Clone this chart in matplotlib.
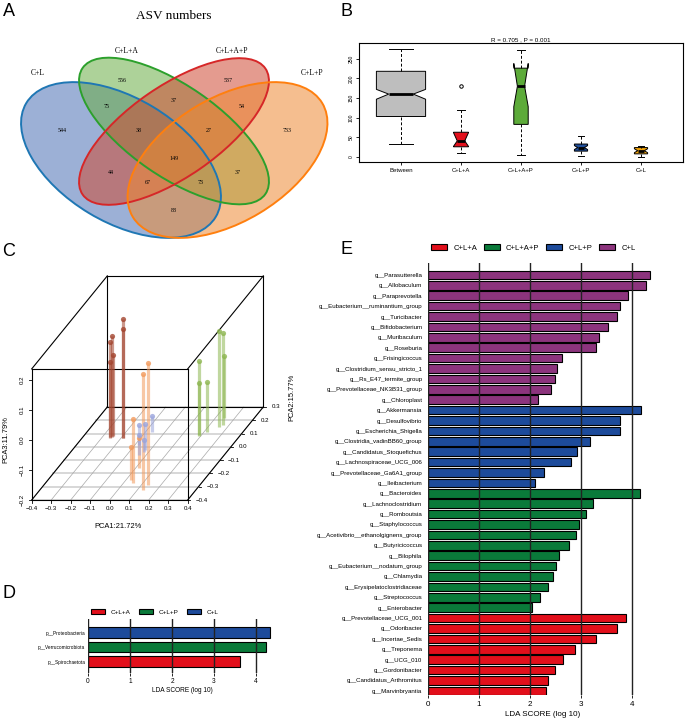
import numpy as np
import matplotlib.pyplot as plt
from matplotlib.patches import Ellipse, Patch

W, H = 685, 725
fig = plt.figure(figsize=(6.85, 7.25), dpi=100)
SANS = 'Liberation Sans'
SERIF = 'Liberation Serif'


def px_axes(x0, y0, x1, y1):
    return fig.add_axes([x0 / W, 1 - y1 / H, (x1 - x0) / W, (y1 - y0) / H])


# ---------------- data ----------------
# A: venn
venn_sets = ['C+L', 'C+L+A', 'C+L+A+P', 'C+L+P']
venn_counts = [544, 556, 537, 733, 75, 37, 54, 38, 27, 149, 44, 37, 67, 73, 88]

# B: anosim boxes
b_groups = ['Between', 'C+L+A', 'C+L+A+P', 'C+L+P', 'C+L']
b_whislo = [32, 9, 4, 2, 1]
b_q1 = [103, 26, 83, 15, 8]
b_med = [160, 41, 180, 24, 16]
b_q3 = [218, 63, 226, 33, 24]
b_whishi = [275, 119, 271, 53, 29]
b_cilo = [147, 27, 128, 19, 11]
b_cihi = [172, 62, 238, 29, 21]
b_fliers = [[], [180], [], [], []]

# C: PCA scores (PCA1, PCA2, PCA3)
pc1_brown = [-0.252, -0.257, -0.25, -0.26, -0.192, -0.19]
pc2_brown = [0.074, 0.07, 0.078, 0.072, 0.067, 0.065]
pc3_brown = [0.137, 0.12, 0.073, 0.05, 0.196, 0.163]
pc1_orange = [0.135, 0.128, 0.047, 0.028, 0.019]
pc2_orange = [-0.287, -0.325, -0.272, -0.25, -0.161]
pc3_orange = [0.206, 0.186, 0.013, -0.089, -0.10]
pc1_blue = [-0.069, -0.027, -0.08, -0.039, -0.025]
pc2_blue = [0.114, -0.024, 0.014, -0.061, -0.037]
pc3_blue = [-0.147, -0.114, -0.133, -0.133, -0.161]
pc1_green = [0.256, 0.27, 0.246, 0.189, 0.192, 0.213]
pc2_green = [0.152, 0.164, 0.217, 0.089, 0.08, 0.114]
pc3_green = [0.12, 0.106, 0.007, 0.048, -0.022, -0.033]

# D: phylum LDA
d_taxa = ['p__Proteobacteria', 'p__Verrucomicrobiota', 'p__Spirochaetota']
d_lda = [4.34, 4.24, 3.63]
d_group = ['C+L', 'C+L+P', 'C+L+A']
d_col = {'C+L+A': '#E20F1B', 'C+L+P': '#0A7A3A', 'C+L': '#1D4B9B'}

# E: genus LDA
e_taxa = ['g__Parasutterella', 'g__Allobaculum', 'g__Paraprevotella',
          'g__Eubacterium__ruminantium_group', 'g__Turicibacter', 'g__Bifidobacterium',
          'g__Muribaculum', 'g__Roseburia', 'g__Frisingicoccus',
          'g__Clostridium_sensu_stricto_1', 'g__Rs_E47_termite_group',
          'g__Prevotellaceae_NK3B31_group', 'g__Chloroplast',
          'g__Akkermansia', 'g__Desulfovibrio', 'g__Escherichia_Shigella',
          'g__Clostridia_vadinBB60_group', 'g__Candidatus_Stoquefichus',
          'g__Lachnospiraceae_UCG_006', 'g__Prevotellaceae_Ga6A1_group', 'g__Ileibacterium',
          'g__Bacteroides', 'g__Lachnoclostridium', 'g__Romboutsia', 'g__Staphylococcus',
          'g__Acetivibrio__ethanolgignens_group', 'g__Butyricicoccus', 'g__Bilophila',
          'g__Eubacterium__nodatum_group', 'g__Chlamydia', 'g__Erysipelatoclostridiaceae',
          'g__Streptococcus', 'g__Enterobacter',
          'g__Prevotellaceae_UCG_001', 'g__Odoribacter', 'g__Incertae_Sedis', 'g__Treponema',
          'g__UCG_010', 'g__Gordonibacter', 'g__Candidatus_Arthromitus', 'g__Marvinbryantia']
e_lda = [4.34, 4.27, 3.92, 3.75, 3.69, 3.53, 3.34, 3.28, 2.62, 2.53, 2.48, 2.41, 2.15,
         4.16, 3.75, 3.75, 3.16, 2.92, 2.79, 2.26, 2.10,
         4.14, 3.22, 3.10, 2.96, 2.89, 2.75, 2.57, 2.51, 2.45, 2.34, 2.20, 2.04,
         3.88, 3.70, 3.28, 2.88, 2.65, 2.49, 2.34, 2.30]
e_group = ['C+L'] * 13 + ['C+L+P'] * 8 + ['C+L+A+P'] * 12 + ['C+L+A'] * 8
e_col = {'C+L+A': '#E20F1B', 'C+L+A+P': '#0A7A3A', 'C+L+P': '#1D4B9B', 'C+L': '#8C347D'}

# ---------------- panel letters ----------------
for letter, (lx, ly) in zip('ABCDE', [(3, 11), (340, 11), (2, 251), (2, 594), (340, 249)]):
    fig.text(lx / W, 1 - ly / H, letter, fontsize=13, family=SANS, va='center', ha='left')

# ---------------- A: venn ----------------
axA = px_axes(0, 0, 340, 240)
axA.set_xlim(0, 340)
axA.set_ylim(240, 0)
axA.axis('off')
ells = [((121, 160), 221, 124, 31, '#1F77B4', '#4B6FB5'),
        ((174, 131), 222, 91, 34.6, '#2CA02C', '#6AAE45'),
        ((174, 131.5), 222, 91, -34.6, '#D62728', '#CF4A33'),
        ((227.5, 160), 221, 124, -31, '#FF7F0E', '#EE8A33')]
for c, w, h, a, ec, fc in ells:
    axA.add_patch(Ellipse(c, w, h, angle=a, facecolor=fc, alpha=0.55, lw=0))
for c, w, h, a, ec, fc in ells:
    axA.add_patch(Ellipse(c, w, h, angle=a, fill=False, edgecolor=ec, lw=1.4))
venn_pos = [(62, 130), (122, 80), (228, 80), (287, 130), (107, 106), (174, 101), (242, 106),
            (139, 130), (209, 130), (174, 159), (111, 173), (238, 173), (148, 183), (201, 183),
            (174, 210)]
for n, (x, y) in zip(venn_counts, venn_pos):
    axA.text(x, y, str(n), fontsize=4.3, family=SERIF, ha='center', va='center')
for name, (x, y) in zip(venn_sets, [(38, 73), (127, 51), (232, 51), (312, 73)]):
    axA.text(x, y, name, fontsize=5.5, family=SERIF, ha='center', va='center')
axA.text(174, 16, 'ASV numbers', fontsize=9.5, family=SERIF, ha='center', va='center')

# ---------------- B: boxplot ----------------
axB = px_axes(359, 43, 683, 162)
stats = []
for i in range(5):
    stats.append(dict(whislo=b_whislo[i], q1=b_q1[i], med=b_med[i], q3=b_q3[i],
                      whishi=b_whishi[i], cilo=b_cilo[i], cihi=b_cihi[i],
                      fliers=b_fliers[i], label=b_groups[i]))
widths = [0.82, 0.25, 0.24, 0.22, 0.22]
bp = axB.bxp(stats, positions=range(1, 6), widths=widths, capwidths=[w * 0.5 for w in widths],
             shownotches=True, patch_artist=True,
             boxprops=dict(edgecolor='black', lw=0.7),
             whiskerprops=dict(ls=(0, (3, 2)), lw=0.7),
             capprops=dict(lw=0.7),
             medianprops=dict(color='black', lw=2),
             flierprops=dict(marker='o', mfc='none', mec='black', ms=2.5, mew=0.7))
for p, c in zip(bp['boxes'], ['#BEBEBE', '#E2101C', '#5DAB3A', '#1F4E9A', '#F0A30A']):
    p.set_facecolor(c)
axB.set_xlim(0.3, 5.7)
axB.set_ylim(-12.7, 290)
axB.set_yticks([0, 50, 100, 150, 200, 250])
axB.set_yticklabels(['0', '50', '100', '150', '200', '250'], rotation=90, va='center',
                    fontsize=3.6, family=SANS)
axB.set_xticks(range(1, 6))
axB.set_xticklabels(b_groups, fontsize=4.3, family=SANS)
axB.tick_params(length=2, width=0.6, pad=2)
for s in axB.spines.values():
    s.set_linewidth(0.8)
axB.set_title('R = 0.705 , P = 0.001', fontsize=4.5, family=SANS, pad=1.5)

# ---------------- C: 3D PCA (oblique projection) ----------------
axC = px_axes(0, 240, 340, 540)
axC.set_xlim(0, 340)
axC.set_ylim(540, 240)
axC.axis('off')
xl, yl, zl = (-0.4, 0.4), (-0.4, 0.3), (-0.2, 0.237)


def proj(x, y, z):
    x, y, z = np.asarray(x, float), np.asarray(y, float), np.asarray(z, float)
    u = 31.7 + (x - xl[0]) * 195 + (y - yl[0]) * 108
    v = 500 - (z - zl[0]) * 300 - (y - yl[0]) * 132.9
    return u, v


# floor grid
for yt in np.arange(-0.4, 0.31, 0.1):
    u, v = proj([xl[0], xl[1]], [yt, yt], [zl[0], zl[0]])
    axC.plot(u, v, color='#d4d4d4', lw=1.3, zorder=1)
for xt in np.arange(-0.4, 0.41, 0.1):
    u, v = proj([xt, xt], [yl[0], yl[1]], [zl[0], zl[0]])
    axC.plot(u, v, color='#a8a8a8', lw=0.5, zorder=1)
# box edges
corners = {}
for i, x in enumerate(xl):
    for j, y in enumerate(yl):
        for k, z in enumerate(zl):
            corners[(i, j, k)] = (x, y, z)
for a in corners:
    for b in corners:
        if a < b and sum(p != q for p, q in zip(a, b)) == 1:
            pa, pb = corners[a], corners[b]
            u, v = proj([pa[0], pb[0]], [pa[1], pb[1]], [pa[2], pb[2]])
            axC.plot(u, v, color='black', lw=0.8, zorder=2)
# ticks
for xt in np.arange(-0.4, 0.41, 0.1):
    u, v = proj(xt, yl[0], zl[0])
    axC.plot([u, u], [v, v + 2.5], color='black', lw=0.6)
    axC.text(u, v + 9, f'{xt:.1f}'.replace('-0.0', '0.0').replace('-', '\u2212'),
             fontsize=4.4, family=SANS, ha='center', va='center')
for zt in np.arange(-0.2, 0.21, 0.1):
    u, v = proj(xl[0], yl[0], zt)
    axC.plot([u - 2.5, u], [v, v], color='black', lw=0.6)
    axC.text(u - 9, v, f'{zt:.1f}'.replace('-0.0', '0.0').replace('-', '\u2212'),
             fontsize=4.4, family=SANS, ha='center', va='center', rotation=90)
for yt in np.arange(-0.4, 0.31, 0.1):
    u, v = proj(xl[1], yt, zl[0])
    axC.plot([u, u + 2.5], [v, v], color='black', lw=0.6)
    axC.text(u + 8, v, f'{yt:.1f}'.replace('-0.0', '0.0').replace('-', '\u2212'),
             fontsize=4.4, family=SANS, ha='left', va='center')
axC.text(118, 526, 'PCA1:21.72%', fontsize=5.4, family=SANS, ha='center', va='center')
axC.text(6, 440, 'PCA3:11.79%', fontsize=5.4, family=SANS, ha='center', va='center', rotation=90)
axC.text(292, 397, 'PCA2:15.77%', fontsize=5.4, family=SANS, ha='center', va='center', rotation=90)
groups_c = [(pc1_brown, pc2_brown, pc3_brown, '#A3452F'),
            (pc1_orange, pc2_orange, pc3_orange, '#F29A5C'),
            (pc1_blue, pc2_blue, pc3_blue, '#9AA4DC'),
            (pc1_green, pc2_green, pc3_green, '#8DB650')]
for p1, p2, p3, col in groups_c:
    u0, v0 = proj(p1, p2, [zl[0]] * len(p1))
    u1, v1 = proj(p1, p2, p3)
    axC.vlines(u1, v0, v1, colors=col, lw=2.3, alpha=0.55, zorder=3)
    axC.scatter(u1, v1, s=14, color=col, alpha=0.8, lw=0, zorder=4)

# ---------------- D: phylum LDA ----------------
axD = px_axes(88, 619, 277, 673)
yd = np.arange(len(d_taxa))
axD.barh(yd, d_lda, height=0.72, color=[d_col[g] for g in d_group], edgecolor='black', lw=0.8)
axD.set_xlim(0, 4.5)
axD.set_ylim(2.78, -0.94)
axD.set_yticks(yd)
axD.set_yticklabels(d_taxa, fontsize=3.4, family=SANS)
axD.set_xticks(range(5))
axD.set_xticklabels([str(i) for i in range(5)], fontsize=4.7, family=SANS)
axD.tick_params(axis='y', length=0, pad=2)
axD.tick_params(axis='x', length=2, width=0.6, pad=1.5)
axD.set_axisbelow(False)
axD.grid(axis='x', color='#222222', lw=1.0)
for s in axD.spines.values():
    s.set_visible(False)
axD.set_xlabel('LDA SCORE (log 10)', fontsize=4.7, family=SANS, labelpad=1.5)
axD.legend(handles=[Patch(facecolor=d_col[g], edgecolor='black', lw=0.8, label=g)
                    for g in ['C+L+A', 'C+L+P', 'C+L']],
           loc='center left', bbox_to_anchor=(91 / W, 1 - 612 / H), bbox_transform=fig.transFigure,
           ncol=3, frameon=False, borderpad=0, borderaxespad=0, handlelength=2.2,
           handleheight=0.8, handletextpad=0.8, columnspacing=1.4,
           prop=dict(family=SANS, size=4.6))

# ---------------- E: genus LDA ----------------
axE = px_axes(428, 263, 658, 695)
ye = np.arange(len(e_taxa))
axE.barh(ye, e_lda, height=0.82, color=[e_col[g] for g in e_group], edgecolor='black', lw=0.8)
axE.set_xlim(0, 4.5)
axE.set_ylim(40.4, -1.15)
axE.set_yticks(ye)
axE.set_yticklabels(e_taxa, fontsize=4.4, family=SANS)
axE.set_xticks(range(5))
axE.set_xticklabels([str(i) for i in range(5)], fontsize=5.8, family=SANS)
axE.tick_params(axis='y', length=0, pad=4)
axE.tick_params(axis='x', length=2.5, width=0.6, pad=2)
axE.set_axisbelow(False)
axE.grid(axis='x', color='#222222', lw=1.0)
for s in axE.spines.values():
    s.set_visible(False)
axE.set_xlabel('LDA SCORE (log 10)', fontsize=5.8, family=SANS, labelpad=2)
axE.legend(handles=[Patch(facecolor=e_col[g], edgecolor='black', lw=0.8, label=g)
                    for g in ['C+L+A', 'C+L+A+P', 'C+L+P', 'C+L']],
           loc='center left', bbox_to_anchor=(431 / W, 1 - 248 / H), bbox_transform=fig.transFigure,
           ncol=4, frameon=False, borderpad=0, borderaxespad=0, handlelength=2.1,
           handleheight=0.8, handletextpad=0.8, columnspacing=0.9,
           prop=dict(family=SANS, size=5.5))

fig.savefig('out.png', dpi=100)
